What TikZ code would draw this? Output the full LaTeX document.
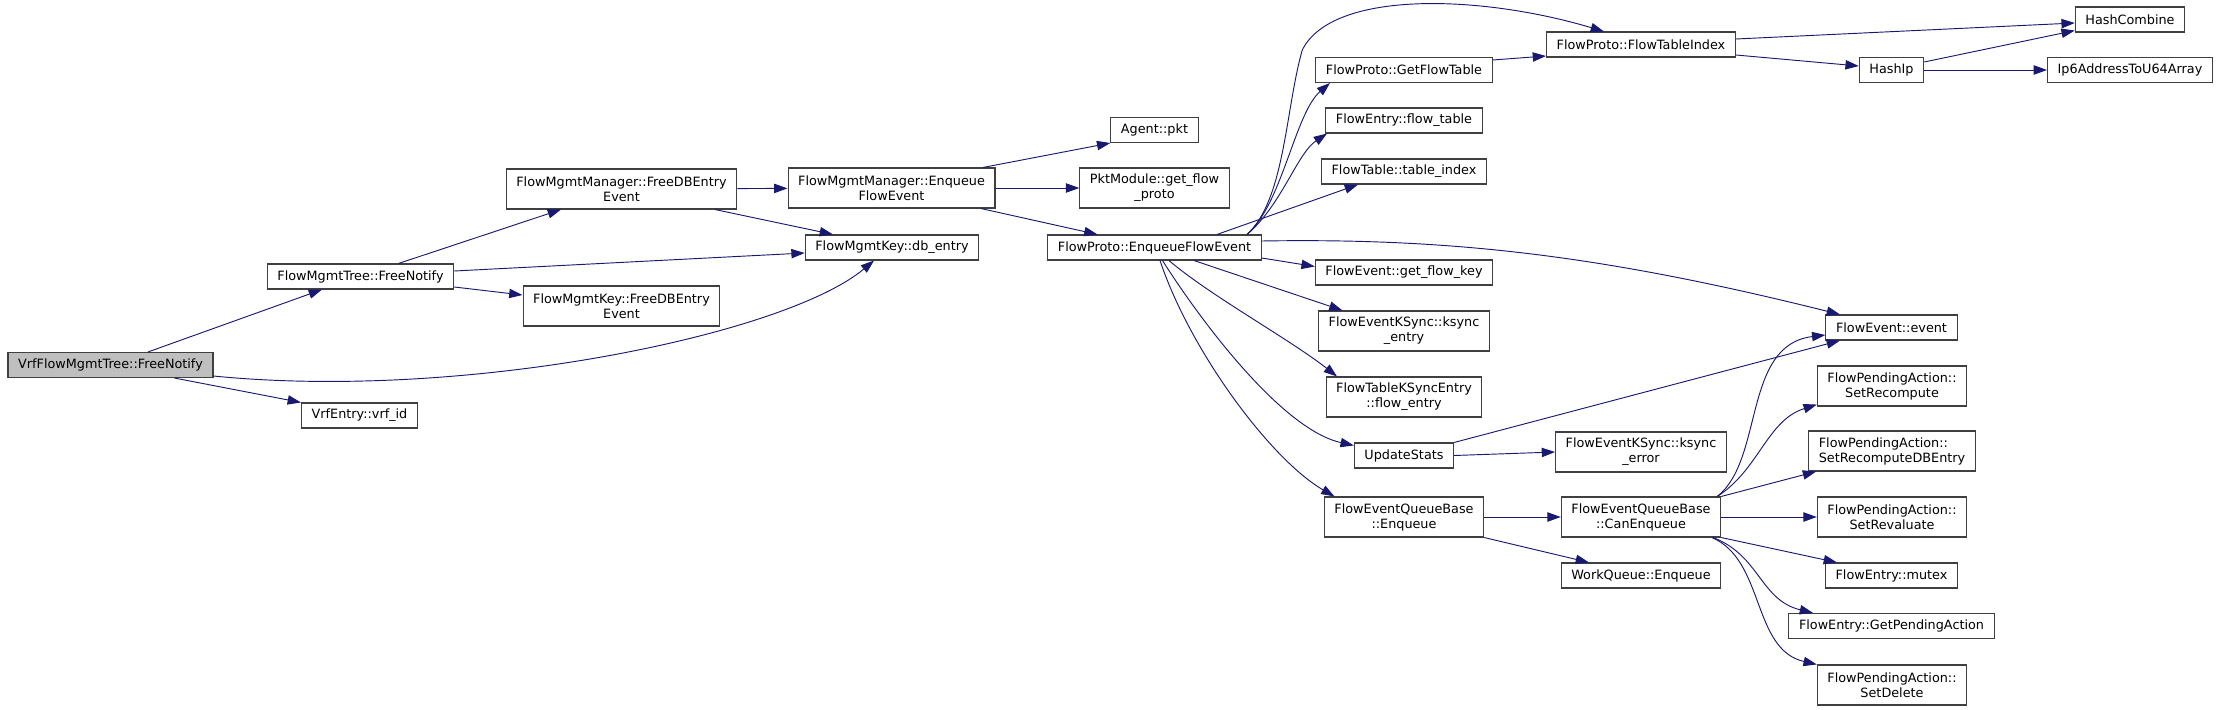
\documentclass[tikz,border=0pt]{standalone}
\usepackage{fontspec}
\setmainfont{DejaVu Sans}
\usetikzlibrary{calc}
\usetikzlibrary{arrows.meta}
\definecolor{midnight}{RGB}{25,25,112}

\begin{document}
\begin{tikzpicture}[
    x=0.75pt, y=-0.75pt,
    func/.style={draw=black!75, line width=0.8pt, fill=white, align=center, inner xsep=7.6pt, inner ysep=4.6pt, minimum height=18.75pt, font=\fontsize{9.6}{11.25}\selectfont},
    two/.style={minimum height=30pt},
    root/.style={fill=black!25},
    call/.style={-{Triangle[length=10pt,width=7pt]}, draw=midnight, line width=0.7pt}
]
\useasboundingbox (0,0) rectangle (2221,710);

% Caller
\node[func, root] (vrffree) at (110.5,365) {VrfFlowMgmtTree::FreeNotify};

% Level 1
\node[func] (treefree) at (360.5,276.5) {FlowMgmtTree::FreeNotify};
\node[func] (vrfid) at (359.5,415.5) {VrfEntry::vrf\_id};

% Level 2
\node[func, two] (mgrfree) at (621.5,189) {FlowMgmtManager::FreeDBEntry\\Event};
\node[func, two] (keyfree) at (621.5,306) {FlowMgmtKey::FreeDBEntry\\Event};

% Level 3
\node[func, two] (mgrenq) at (891.5,188) {FlowMgmtManager::Enqueue\\FlowEvent};
\node[func] (dbentry) at (892,247.5) {FlowMgmtKey::db\_entry};

% Level 4
\node[func] (agentpkt) at (1154.5,130) {Agent::pkt};
\node[func, two] (pktproto) at (1154.5,188) {PktModule::get\_flow\\\_proto};
\node[func] (protoenq) at (1154.5,247.5) {FlowProto::EnqueueFlowEvent};

% Level 5
\node[func] (gettable) at (1404,70) {FlowProto::GetFlowTable};
\node[func] (flowtable) at (1404,120.5) {FlowEntry::flow\_table};
\node[func] (tableidx) at (1404,171.5) {FlowTable::table\_index};
\node[func] (flowkey) at (1404,272.5) {FlowEvent::get\_flow\_key};
\node[func, two] (ksyncentry) at (1404,331) {FlowEventKSync::ksync\\\_entry};
\node[func, two] (kseflow) at (1404,397) {FlowTableKSyncEntry\\::flow\_entry};
\node[func] (updstats) at (1404,455.5) {UpdateStats};
\node[func, two] (qbenq) at (1404,517) {FlowEventQueueBase\\::Enqueue};

% Level 6
\node[func] (tblindex) at (1641,44.5) {FlowProto::FlowTableIndex};
\node[func, two] (ksyncerr) at (1641,452) {FlowEventKSync::ksync\\\_error};
\node[func, two] (canenq) at (1641,517) {FlowEventQueueBase\\::CanEnqueue};
\node[func] (wqenq) at (1641,575.5) {WorkQueue::Enqueue};

% Level 7
\node[func] (haship) at (1891.5,70) {HashIp};
\node[func] (event) at (1891.5,327.5) {FlowEvent::event};
\node[func, two] (recomp) at (1892,386) {FlowPendingAction::\\SetRecompute};
\node[func, two, align=left] (recompdb) at (1892,451) {FlowPendingAction::\\SetRecomputeDBEntry};
\node[func, two] (reval) at (1892,517) {FlowPendingAction::\\SetRevaluate};
\node[func] (mutex) at (1891.5,575.5) {FlowEntry::mutex};
\node[func] (getpend) at (1891.5,626) {FlowEntry::GetPendingAction};
\node[func, two] (setdel) at (1892,685) {FlowPendingAction::\\SetDelete};

% Level 8
\node[func] (hashcomb) at (2130,19.5) {HashCombine};
\node[func] (ip6) at (2130,70) {Ip6AddressToU64Array};

% Calls from the caller
\draw[call] ($(vrffree.north)+(37.5,0)$) -- ($(treefree.south)+(-38.5,0)$);
\draw[call] ($(vrffree.south)+(64,0)$) -- (vrfid.north west);
\draw[call] ($(vrffree.east)+(0,11)$) .. controls +(250,25) and +(-90,75) .. ($(dbentry.south)+(-18,0)$);

% Calls of FlowMgmtTree::FreeNotify
\draw[call] ($(treefree.north)+(38,0)$) -- ($(mgrfree.south)+(-60.5,0)$);
\draw[call] ($(treefree.east)+(0,-5.5)$) -- ($(dbentry.west)+(0,5.5)$);
\draw[call] ($(treefree.east)+(0,10.5)$) -- ($(keyfree.west)+(0,-11)$);

% Calls of the manager
\draw[call] (mgrfree) -- (mgrenq);
\draw[call] ($(mgrfree.south)+(93.5,0)$) -- ($(dbentry.north)+(-59,0)$);
\draw[call] ($(mgrenq.north)+(91.5,0)$) -- (agentpkt.south west);
\draw[call] (mgrenq) -- (pktproto);
\draw[call] ($(mgrenq.south)+(89.5,0)$) -- ($(protoenq.north)+(-57,0)$);

% Calls of FlowProto::EnqueueFlowEvent
\draw[call] ($(protoenq.north)+(92.5,0)$) .. controls +(35,-30) and +(-35,30) .. ($(gettable.south)+(-74,0)$);
\draw[call] ($(protoenq.north)+(92.5,0)$) .. controls +(35,-30) and +(-30,20) .. ($(flowtable.south)+(-77,0)$);
\draw[call] ($(protoenq.north)+(62.5,0)$) -- ($(tableidx.south)+(-46,0)$);
\draw[call] ($(protoenq.north)+(92.5,0)$) .. controls +(38,-35) and +(-17,60) .. ($(gettable.north west)+(-13,-7)$)
    .. controls +(30,-60) and +(-124,-37) .. ($(tblindex.north)+(-37,0)$);
\draw[call] ($(protoenq.east)+(0,10.5)$) -- ($(flowkey.west)+(0,-6)$);
\draw[call] ($(protoenq.east)+(0,-6.5)$) .. controls +(187,-3) and +(-240,-60) .. ($(event.north)+(-51.5,0)$);
\draw[call] ($(protoenq.south)+(39.5,0)$) -- ($(ksyncentry.north)+(-61.5,0)$);
\draw[call] ($(protoenq.south)+(14.5,0)$) .. controls +(41,35) and +(-47,-37) .. ($(kseflow.north)+(-67,0)$);
\draw[call] ($(protoenq.south)+(8,0)$) .. controls +(38,60) and +(-72,-16) .. ($(updstats.north west)+(0,3)$);
\draw[call] ($(protoenq.south)+(5.5,0)$) .. controls +(30,90) and +(-64,-37) .. ($(qbenq.north)+(-69.5,0)$);

% Hashing
\draw[call] ($(gettable.east)+(0,-10)$) -- ($(tblindex.west)+(0,11.5)$);
\draw[call] ($(tblindex.east)+(0,-5.5)$) -- ($(hashcomb.west)+(0,3.5)$);
\draw[call] ($(tblindex.east)+(0,10.5)$) -- ($(haship.west)+(0,-4)$);
\draw[call] ($(haship.east)+(0,-8)$) -- ($(hashcomb.south west)+(0,-2)$);
\draw[call] (haship) -- (ip6);

% Stats and queue
\draw[call] (updstats.north east) -- ($(event.south)+(-51.5,0)$);
\draw[call] (updstats.east) -- (ksyncerr.west);
\draw[call] (qbenq) -- (canenq);
\draw[call] (qbenq.south east) -- ($(wqenq.north)+(-52,0)$);

% Calls of FlowEventQueueBase::CanEnqueue
\draw[call] ($(canenq.north east)+(-4,0)$) .. controls +(47,-37) and +(-83,10) .. ($(event.west)+(0,7.5)$);
\draw[call] ($(canenq.north east)+(-4,0)$) .. controls +(42,-27) and +(-50,16) .. ($(recomp.south west)+(0,-2)$);
\draw[call] (canenq.north east) -- ($(recompdb.south west)+(8,0)$);
\draw[call] (canenq) -- (reval);
\draw[call] (canenq.south east) -- ($(mutex.north)+(-54.5,0)$);
\draw[call] ($(canenq.south)+(72,0)$) .. controls +(47,18) and +(-53,-13) .. ($(getpend.north)+(-78.5,0)$);
\draw[call] ($(canenq.south)+(71,0)$) .. controls +(53,23) and +(-65,-15) .. (setdel.north west);

\end{tikzpicture}
\end{document}
